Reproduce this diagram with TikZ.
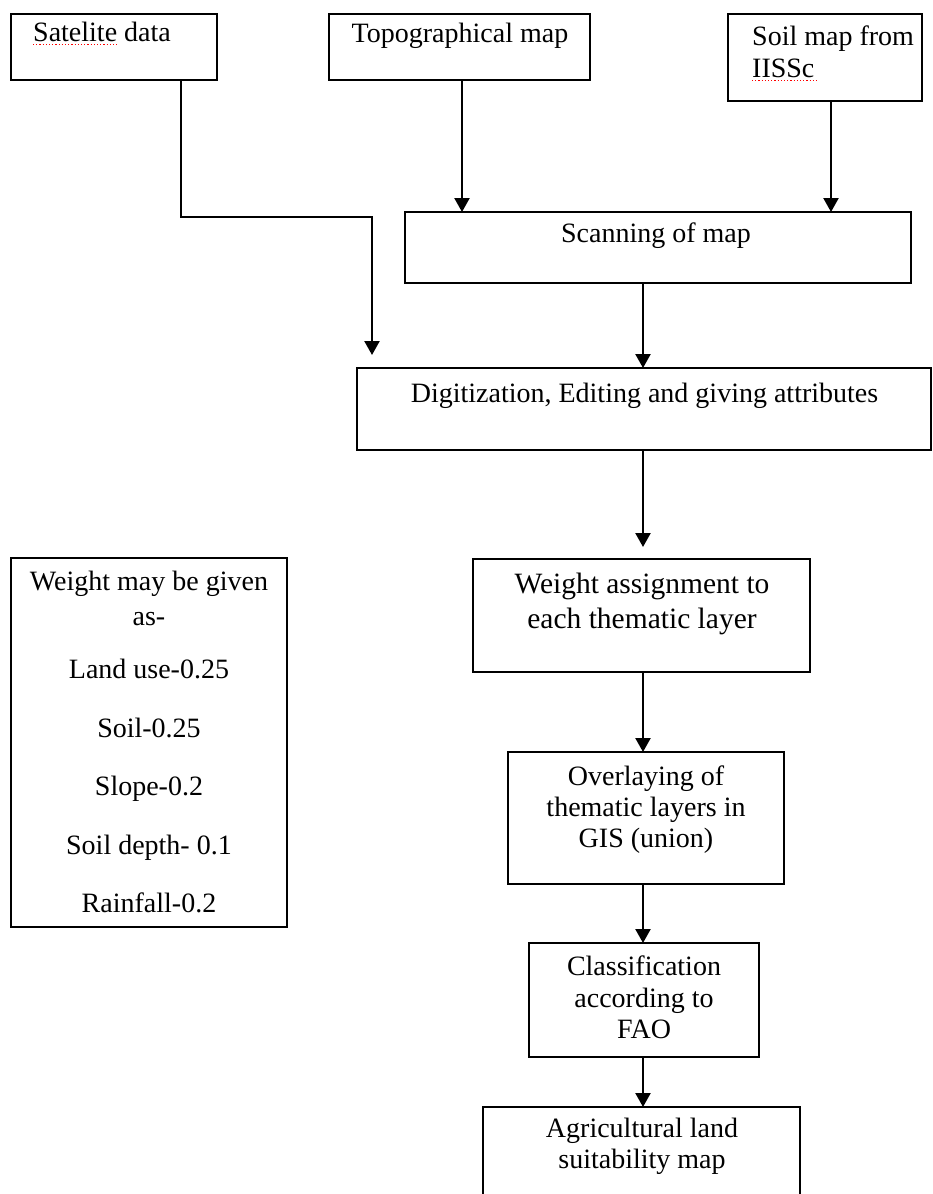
\documentclass[tikz,border=0pt]{standalone}
\usepackage{fontspec}
\setmainfont{Liberation Serif}
\usetikzlibrary{arrows.meta}
\begin{document}
\begin{tikzpicture}[x=1pt,y=-1pt,
  box/.style={draw, line width=2.4pt, inner sep=0pt, outer sep=0pt},
  txt/.style={inner sep=0pt, align=center, font=\fontsize{28}{31}\selectfont},
  arr/.style={line width=2.3pt, -{Triangle[width=15pt,length=14pt]}},
  spell/.style={red, line width=1.2pt, dotted}]
\useasboundingbox (0,0) rectangle (933,1194);
% boxes
\node[box, minimum width=206pt, minimum height=66pt] (sat) at (114,47) {};
\node[box, minimum width=261pt, minimum height=66pt] (topo) at (459.5,47) {};
\node[box, minimum width=194pt, minimum height=87pt] (soil) at (825,57.5) {};
\node[box, minimum width=506pt, minimum height=71pt] (scan) at (658,247.5) {};
\node[box, minimum width=574pt, minimum height=82pt] (digit) at (644,409) {};
\node[box, minimum width=276pt, minimum height=369pt] (wlist) at (149,742.5) {};
\node[box, minimum width=337pt, minimum height=113pt] (wass) at (641.5,615.5) {};
\node[box, minimum width=276pt, minimum height=132pt] (over) at (646,818) {};
\node[box, minimum width=230pt, minimum height=114pt] (cls) at (644,1000) {};
\node[box, minimum width=317pt, minimum height=107pt] (agri) at (641.5,1160.5) {};
% texts
\node[txt, anchor=north west, align=left] (tsat) at (33,22) {Satelite data};
\node[txt, anchor=north] (ttopo) at (460,23) {Topographical map};
\node[txt, anchor=north west, align=left, font=\fontsize{28}{32}\selectfont] (tsoil) at (752,26) {Soil map from\\IISSc};
\node[txt, anchor=north] (tscan) at (656,223) {Scanning of map};
\node[txt, anchor=north] (tdigit) at (644.5,383) {Digitization, Editing and giving attributes};
\node[txt, anchor=north, font=\fontsize{28}{35}\selectfont] (twlist) at (149,571)
  {Weight may be given\\as-\\[18pt]Land use-0.25\\[23.5pt]Soil-0.25\\[23.5pt]Slope-0.2\\[23.5pt]Soil depth- 0.1\\[23.5pt]Rainfall-0.2};
\node[txt, anchor=north, font=\fontsize{29.5}{35}\selectfont] (twass) at (642,573) {Weight assignment to\\each thematic layer};
\node[txt, anchor=north] (tover) at (646,766) {Overlaying of\\thematic layers in\\GIS (union)};
\node[txt, anchor=north, font=\fontsize{28}{31.5}\selectfont] (tcls) at (644,956) {Classification\\according to\\FAO};
\node[txt, anchor=north] (tagri) at (642,1118) {Agricultural land\\suitability map};
% spell-check marks
\draw[spell] (33,44.5) -- (118,44.5);
\draw[spell] (752,80.5) -- (817,80.5);
% helper coordinates
\coordinate (sj) at (181,217);
\coordinate (se) at (372,0);
\coordinate (tx) at (462,0);
\coordinate (sx) at (831,0);
\coordinate (cx) at (643,0);
% connectors
\draw[arr, shorten >=13pt] (sat.south -| sj) -- (sj) -| (digit.north -| se);
\draw[arr] (topo.south -| tx) -- (scan.north -| tx);
\draw[arr] (soil.south -| sx) -- (scan.north -| sx);
\draw[arr] (scan.south -| cx) -- (digit.north -| cx);
\draw[arr, shorten >=12pt] (digit.south -| cx) -- (wass.north -| cx);
\draw[arr] (wass.south -| cx) -- (over.north -| cx);
\draw[arr] (over.south -| cx) -- (cls.north -| cx);
\draw[arr] (cls.south -| cx) -- (agri.north -| cx);
\end{tikzpicture}
\end{document}
